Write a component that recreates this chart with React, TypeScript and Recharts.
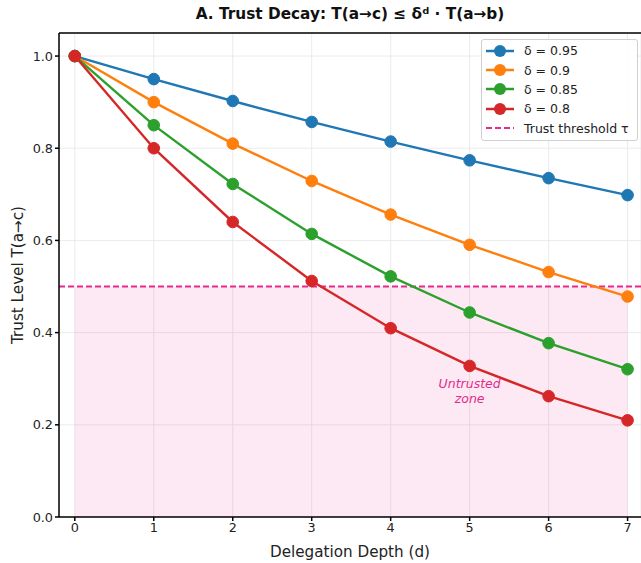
import React from "react";
import {
  LineChart, Line, XAxis, YAxis, CartesianGrid, ReferenceArea, ReferenceLine, ReferenceDot,
} from "recharts";

const depths = [0, 1, 2, 3, 4, 5, 6, 7];
const trust095 = [1.0, 0.95, 0.9025, 0.857, 0.8145, 0.7738, 0.7351, 0.6983];
const trust090 = [1.0, 0.9, 0.81, 0.729, 0.6561, 0.5905, 0.5314, 0.4783];
const trust085 = [1.0, 0.85, 0.7225, 0.6141, 0.522, 0.4437, 0.3771, 0.3206];
const trust080 = [1.0, 0.8, 0.64, 0.512, 0.4096, 0.3277, 0.2621, 0.2097];
const seriesNames = ["δ = 0.95", "δ = 0.9", "δ = 0.85", "δ = 0.8"];
const seriesKeys = ["d095", "d090", "d085", "d080"];
const seriesColors = ["#1f77b4", "#ff7f0e", "#2ca02c", "#d62728"];
const threshold = 0.5;
const thresholdName = "Trust threshold τ";
const yTicks = [0, 0.2, 0.4, 0.6, 0.8, 1.0];
const zoneLabel = ["Untrusted", "zone"];
const zoneLabelPos = { x: 5, y: 0.275 };

const data = depths.map((d, i) => ({
  d,
  d095: trust095[i],
  d090: trust090[i],
  d085: trust085[i],
  d080: trust080[i],
}));

const PINK = "#e6298b";
const FONT = "DejaVu Sans, sans-serif";

const LegendBox = () => (
  <div
    style={{
      position: "absolute",
      left: 481,
      top: 39,
      width: 157,
      height: 102,
      border: "1px solid #d0d0d0",
      borderRadius: 3,
      background: "rgba(255,255,255,0.85)",
      fontFamily: FONT,
      fontSize: 12.5,
      color: "#222",
      boxSizing: "border-box",
      paddingTop: 1,
      whiteSpace: "nowrap",
    }}
  >
    {seriesNames.map((n, i) => (
      <div key={n} style={{ display: "flex", alignItems: "center", height: 19.4 }}>
        <svg width={32} height={14} style={{ marginLeft: 3 }}>
          <line x1={1} y1={7} x2={29} y2={7} stroke={seriesColors[i]} strokeWidth={2.5} />
          <circle cx={15} cy={7} r={6} fill={seriesColors[i]} />
        </svg>
        <span style={{ marginLeft: 7 }}>{n}</span>
      </div>
    ))}
    <div style={{ display: "flex", alignItems: "center", height: 19.4 }}>
      <svg width={32} height={14} style={{ marginLeft: 3 }}>
        <line x1={1} y1={7} x2={29} y2={7} stroke={PINK} strokeWidth={2} strokeDasharray="6 3" />
      </svg>
      <span style={{ marginLeft: 7 }}>{thresholdName}</span>
    </div>
  </div>
);

const ZoneText = (props: any) => {
  const { cx, cy } = props;
  return (
    <text
      x={cx}
      y={cy}
      textAnchor="middle"
      fill={PINK}
      fontStyle="italic"
      fontSize={12.5}
      fontFamily={FONT}
    >
      <tspan x={cx} dy={-2}>{zoneLabel[0]}</tspan>
      <tspan x={cx} dy={15}>{zoneLabel[1]}</tspan>
    </text>
  );
};

export default function App() {
  return (
    <div style={{ position: "absolute", left: 0, top: 0, width: 641, height: 563, background: "#fff" }}>
      <div
        style={{
          position: "absolute",
          left: 59,
          width: 582,
          top: 5,
          textAlign: "center",
          fontFamily: FONT,
          fontWeight: "bold",
          fontSize: 15.3,
          color: "#111",
        }}
      >
        A. Trust Decay: T(a→c) ≤ δᵈ · T(a→b)
      </div>
      <LineChart
        width={641}
        height={563}
        data={data}
        margin={{ top: 33, right: 0, bottom: 0, left: 0 }}
      >
        <CartesianGrid stroke="#e6e6e6" strokeWidth={0.8} />
        <XAxis
          dataKey="d"
          type="number"
          domain={[-0.2, 7.17]}
          ticks={depths}
          allowDataOverflow
          stroke="#000"
          strokeWidth={1.5}
          tickSize={4}
          tick={{ fontSize: 12.8, fill: "#222", fontFamily: FONT }}
          label={{ value: "Delegation Depth (d)", position: "insideBottom", offset: 6, fontSize: 15.2, fill: "#222", fontFamily: FONT }}
          height={46}
        />
        <YAxis
          type="number"
          domain={[0, 1.05]}
          ticks={yTicks}
          allowDataOverflow
          tickFormatter={(v: number) => v.toFixed(1)}
          stroke="#000"
          strokeWidth={1.5}
          tickSize={4}
          tick={{ fontSize: 12.8, fill: "#222", fontFamily: FONT }}
          width={59}
          label={{ value: "Trust Level T(a→c)", angle: -90, position: "insideLeft", offset: 18, style: { textAnchor: "middle" }, fontSize: 15.2, fill: "#222", fontFamily: FONT }}
        />
        <ReferenceArea x1={0} x2={7} y1={0} y2={threshold} fill={PINK} fillOpacity={0.1} stroke="none" />
        <ReferenceLine y={1.05} stroke="#000" strokeWidth={1.5} />
        <ReferenceLine y={threshold} stroke={PINK} strokeWidth={1.8} strokeDasharray="6 3" />
        {seriesKeys.map((k, i) => (
          <Line
            key={k}
            dataKey={k}
            name={seriesNames[i]}
            stroke={seriesColors[i]}
            strokeWidth={2.4}
            dot={{ r: 5.8, fill: seriesColors[i], stroke: seriesColors[i], strokeWidth: 1 }}
            isAnimationActive={false}
          />
        ))}
        <ReferenceDot x={zoneLabelPos.x} y={zoneLabelPos.y} r={0} shape={ZoneText} />
      </LineChart>
      <LegendBox />
    </div>
  );
}
